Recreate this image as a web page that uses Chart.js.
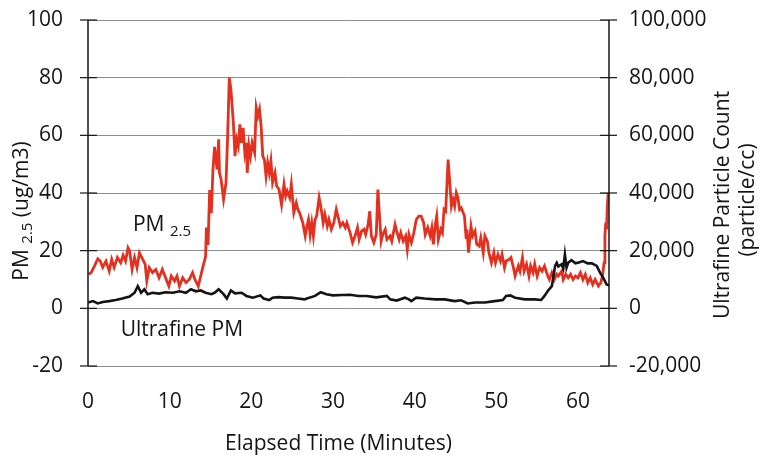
<!DOCTYPE html>
<html>
<head>
<meta charset="utf-8">
<script src="https://cdn.jsdelivr.net/npm/chart.js@4/dist/chart.umd.min.js"></script>
<style>
  html, body { margin: 0; padding: 0; background: #fff; }
  #wrap { width: 759px; height: 456px; }
</style>
</head>
<body>
<div id="wrap"><canvas id="chart" width="759" height="456"></canvas></div>
<script>
'use strict';

// PM2.5 trace (ug/m3) against elapsed minutes
const pm25Minutes = [
  0.1, 0.4, 0.8, 1.2, 1.5, 1.8, 2.2, 2.6, 2.9, 3.2, 3.6, 4.0, 4.3, 4.6, 4.9, 5.1, 5.4, 5.7, 6.0, 6.3,
  6.7, 7.0, 7.2, 7.5, 7.9, 8.3, 8.7, 9.1, 9.5, 9.9, 10.2, 10.6, 10.9, 11.2, 11.6, 12.0, 12.4, 12.8, 13.1, 13.5,
  13.8, 14.1, 14.4, 14.5, 14.7, 14.9, 15.1, 15.3, 15.5, 15.8, 16.0, 16.1, 16.3, 16.6, 16.9, 17.1, 17.3, 17.5, 17.8, 18.0,
  18.2, 18.4, 18.6, 18.8, 19.0, 19.2, 19.4, 19.5, 19.7, 19.9, 20.1, 20.4, 20.6, 20.8, 21.0, 21.2, 21.4, 21.6, 21.8, 22.0,
  22.2, 22.4, 22.6, 22.9, 23.1, 23.4, 23.7, 24.0, 24.2, 24.4, 24.7, 24.9, 25.2, 25.5, 25.7, 25.9, 26.3, 26.6, 26.8, 27.0,
  27.2, 27.4, 27.6, 27.8, 28.0, 28.3, 28.5, 28.8, 29.0, 29.3, 29.5, 29.8, 30.1, 30.4, 30.6, 30.9, 31.2, 31.5, 31.7, 32.1,
  32.4, 32.7, 33.0, 33.2, 33.5, 33.8, 34.0, 34.3, 34.5, 34.7, 35.0, 35.3, 35.5, 35.7, 35.9, 36.1, 36.4, 36.6, 37.0, 37.2,
  37.6, 37.8, 38.1, 38.3, 38.6, 38.9, 39.1, 39.3, 39.6, 39.9, 40.2, 40.5, 40.8, 41.1, 41.3, 41.6, 41.9, 42.1, 42.3, 42.5,
  42.7, 42.9, 43.2, 43.4, 43.6, 43.8, 44.1, 44.3, 44.5, 44.7, 44.9, 45.1, 45.3, 45.5, 45.7, 46.1, 46.3, 46.4, 46.6, 46.9,
  47.1, 47.4, 47.6, 47.9, 48.1, 48.4, 48.6, 48.9, 49.1, 49.4, 49.7, 49.9, 50.2, 50.5, 50.7, 51.0, 51.2, 51.6, 51.8, 52.1,
  52.3, 52.7, 52.9, 53.2, 53.4, 53.7, 54.0, 54.2, 54.5, 54.7, 55.0, 55.3, 55.6, 55.9, 56.3, 56.5, 56.8, 57.1, 57.4, 57.6,
  58.0, 58.2, 58.5, 58.8, 59.1, 59.4, 59.7, 60.0, 60.3, 60.6, 60.9, 61.2, 61.5, 61.8, 62.1, 62.5, 62.8, 63.0, 63.2, 63.3,
  63.4, 63.5, 63.6, 63.7
];
const pm25Values = [
  11.8, 12.5, 14.7, 17.2, 16.4, 14.2, 16.4, 12.9, 17.0, 14.2, 17.6, 15.8, 18.4, 16.4, 21.0, 19.9, 13.5, 17.6, 14.1, 19.3,
  17.0, 15.3, 9.5, 14.1, 12.4, 13.5, 10.6, 13.5, 10.6, 7.7, 11.2, 9.5, 11.2, 7.7, 10.6, 8.9, 10.0, 12.4, 10.0, 7.7,
  11.2, 14.7, 18.0, 28.0, 22.0, 41.0, 33.0, 48.0, 56.0, 48.2, 58.6, 47.0, 44.7, 37.8, 43.6, 59.7, 80.0, 75.9, 64.4, 52.8,
  58.6, 56.3, 63.8, 57.4, 62.6, 54.0, 57.4, 47.0, 56.3, 52.8, 57.4, 54.0, 69.6, 66.7, 69.0, 63.2, 52.8, 51.6, 45.9, 50.5,
  47.0, 51.1, 43.6, 47.0, 42.4, 41.2, 36.0, 43.0, 38.9, 40.7, 38.4, 43.0, 33.2, 36.6, 34.3, 33.2, 29.7, 25.1, 28.5, 30.8,
  25.6, 29.7, 25.1, 30.8, 32.0, 38.4, 35.5, 29.7, 32.6, 28.5, 30.8, 27.4, 29.7, 34.3, 32.0, 28.5, 29.7, 28.0, 29.7, 26.2,
  22.8, 25.1, 28.0, 23.9, 26.8, 27.4, 25.6, 29.1, 33.7, 25.1, 22.8, 25.6, 41.2, 32.0, 23.3, 25.6, 27.4, 23.9, 25.1, 23.3,
  29.1, 26.8, 23.9, 26.2, 23.3, 25.1, 20.4, 25.6, 22.8, 26.2, 30.8, 32.0, 32.0, 29.7, 25.6, 28.0, 25.1, 28.0, 22.2, 28.5,
  32.0, 23.9, 27.4, 26.2, 34.3, 33.7, 51.6, 43.6, 35.5, 37.8, 35.5, 40.1, 38.4, 34.3, 34.9, 32.0, 24.5, 27.4, 19.3, 28.5,
  25.1, 26.8, 22.2, 21.6, 24.5, 19.3, 25.1, 23.3, 19.3, 15.8, 19.3, 15.8, 18.7, 16.4, 18.7, 14.1, 16.4, 17.0, 17.6, 14.1,
  11.2, 14.7, 12.9, 17.6, 12.9, 15.3, 11.2, 14.7, 12.4, 15.3, 11.2, 14.1, 12.9, 14.7, 11.2, 10.0, 12.4, 10.0, 11.8, 11.2,
  12.9, 10.0, 11.8, 10.6, 11.8, 10.0, 11.2, 10.6, 12.4, 10.0, 11.8, 8.9, 10.6, 8.3, 10.0, 7.7, 8.9, 11.2, 15.8, 25.1,
  29.7, 27.4, 35.5, 40.1
];

// ultrafine particle count (particle/cc)
const ufpMinutes = [
  0.0, 0.6, 1.2, 1.8, 2.6, 3.4, 4.2, 5.1, 5.7, 6.1, 6.5, 6.9, 7.3, 7.9, 8.7, 9.5, 10.4, 11.2, 12.0, 12.6,
  13.2, 13.8, 14.4, 15.1, 15.5, 16.0, 16.6, 17.0, 17.5, 18.0, 18.8, 19.4, 20.2, 21.1, 21.5, 22.2, 22.6, 23.3, 24.1, 24.9,
  25.7, 26.5, 26.8, 27.8, 28.5, 29.2, 30.0, 31.1, 32.1, 33.1, 34.1, 35.3, 36.6, 37.0, 37.8, 38.8, 39.3, 39.6, 40.2, 41.2,
  42.5, 43.7, 44.9, 45.7, 46.5, 47.4, 48.6, 49.8, 50.8, 51.2, 51.7, 52.3, 53.5, 54.7, 55.5, 55.9, 56.3, 56.8, 57.0, 57.2,
  57.4, 57.6, 58.0, 58.2, 58.4, 58.6, 58.8, 59.2, 59.7, 60.2, 60.6, 61.2, 61.7, 62.3, 62.7, 63.1, 63.5, 63.8
];
const ufpCounts = [
  2000, 2500, 1700, 2200, 2500, 2900, 3400, 4100, 5400, 7700, 5400, 6600, 4900, 5400, 5100, 5600, 5400, 5900, 5400, 6600,
  5900, 6200, 5400, 4900, 5400, 6600, 4900, 3400, 6200, 5200, 5400, 4300, 3700, 4500, 3400, 2900, 3700, 3900, 3700, 3700,
  3400, 3100, 3400, 4300, 5600, 4900, 4500, 4600, 4700, 4300, 4300, 3800, 4300, 3100, 2700, 3700, 3100, 2500, 3700, 3400,
  3100, 3100, 2500, 2800, 1700, 2000, 2000, 2500, 2900, 4300, 4500, 3700, 3100, 3100, 2900, 4300, 6000, 7700, 11200, 14700,
  15800, 14500, 15300, 13800, 18700, 14100, 15800, 16700, 15600, 16000, 16400, 15600, 15600, 14700, 12400, 10600, 8300, 8000
];

const pmTicks = [-20, 0, 20, 40, 60, 80, 100];
const ufpTicks = [-20000, 0, 20000, 40000, 60000, 80000, 100000];
const timeTicks = [0, 10, 20, 30, 40, 50, 60];

const FONT = '"Open Sans", "DejaVu Sans", sans-serif';
const FS = 21;
const INK = '#141414';
const RED = '#e3301f';

const pairs = (xs, ys) => xs.map((x, i) => ({ x, y: ys[i] }));
const fixTicks = list => scale => { scale.ticks = list.map(value => ({ value })); };
// fixed box size, and no extra room reserved for the end labels
const fixSize = (w, h) => scale => {
  if (w) scale.width = w;
  if (h) scale.height = h;
  scale.paddingTop = scale.paddingBottom = 0;
  scale.paddingLeft = scale.paddingRight = 0;
};

// axis lines, crossing tick marks and all free text
const decorations = {
  id: 'decorations',
  afterDraw(chart) {
    const { ctx, chartArea: a, scales } = chart;
    const line = (x1, y1, x2, y2) => {
      ctx.beginPath();
      ctx.moveTo(x1, y1);
      ctx.lineTo(x2, y2);
      ctx.stroke();
    };

    ctx.save();
    ctx.strokeStyle = INK;
    ctx.lineWidth = 1.5;
    line(a.left, a.top, a.left, a.bottom);
    line(a.right, a.top, a.right, a.bottom);

    ctx.lineWidth = 1.2;
    for (const v of pmTicks) {
      const y = scales.y.getPixelForValue(v);
      line(a.left - 8, y, a.left + 9, y);
    }
    for (const v of ufpTicks) {
      const y = scales.y2.getPixelForValue(v);
      line(a.right - 9, y, a.right + 8, y);
    }

    ctx.fillStyle = INK;
    ctx.textBaseline = 'alphabetic';

    // x title
    ctx.font = `${FS}px ${FONT}`;
    ctx.textAlign = 'center';
    ctx.fillText('Elapsed Time (Minutes)', (a.left + a.right) / 2 - 10, 450);

    // left title with subscript
    const parts = [
      { t: 'PM ', size: FS, dy: 0 },
      { t: '2.5', size: 15, dy: 4 },
      { t: ' (ug/m3)', size: FS, dy: 0 }
    ];
    let total = 0;
    for (const p of parts) {
      ctx.font = `${p.size}px ${FONT}`;
      p.w = ctx.measureText(p.t).width;
      total += p.w;
    }
    ctx.save();
    ctx.translate(28, 211);
    ctx.rotate(-Math.PI / 2);
    ctx.textAlign = 'left';
    let cx = -total / 2;
    for (const p of parts) {
      ctx.font = `${p.size}px ${FONT}`;
      ctx.fillText(p.t, cx, p.dy);
      cx += p.w;
    }
    ctx.restore();

    // right title, two lines
    ctx.save();
    ctx.font = `${FS}px ${FONT}`;
    ctx.textAlign = 'center';
    ctx.translate(729, 205);
    ctx.rotate(-Math.PI / 2);
    ctx.fillText('Ultrafine Particle Count', 0, 0);
    ctx.fillText('(particle/cc)', 5, 25);
    ctx.restore();

    // series labels
    ctx.textAlign = 'left';
    const px = scales.x.getPixelForValue(5.5);
    const py = scales.y.getPixelForValue(26.7);
    ctx.font = `${FS}px ${FONT}`;
    ctx.fillText('PM', px, py);
    const pmW = ctx.measureText('PM ').width;
    ctx.font = `15px ${FONT}`;
    ctx.fillText('2.5', px + pmW, py + 5);

    ctx.font = `${FS}px ${FONT}`;
    ctx.fillText('Ultrafine PM', scales.x.getPixelForValue(4.0), scales.y.getPixelForValue(-9.7));
    ctx.restore();
  }
};

new Chart(document.getElementById('chart'), {
  type: 'line',
  data: {
    datasets: [
      {
        label: 'Ultrafine PM',
        data: pairs(ufpMinutes, ufpCounts),
        yAxisID: 'y2',
        borderColor: INK,
        borderWidth: 2.6,
        pointRadius: 0,
        tension: 0
      },
      {
        label: 'PM 2.5',
        data: pairs(pm25Minutes, pm25Values),
        yAxisID: 'y',
        borderColor: RED,
        borderWidth: 2.8,
        pointRadius: 0,
        tension: 0
      }
    ]
  },
  options: {
    responsive: false,
    animation: false,
    layout: { padding: { top: 20, right: 0, bottom: 0, left: 0 } },
    plugins: {
      legend: { display: false },
      tooltip: { enabled: false }
    },
    scales: {
      x: {
        type: 'linear',
        min: 0,
        max: 63.8,
        afterBuildTicks: fixTicks(timeTicks),
        afterFit: fixSize(0, 90),
        grid: { display: false, drawTicks: false },
        border: { display: false },
        ticks: { color: INK, font: { family: FONT, size: FS }, padding: 23, maxRotation: 0 }
      },
      y: {
        position: 'left',
        min: -20,
        max: 100,
        afterBuildTicks: fixTicks(pmTicks),
        afterFit: fixSize(88, 0),
        grid: { color: '#8d8d8d', lineWidth: 1, drawTicks: false },
        border: { display: false },
        ticks: { color: INK, font: { family: FONT, size: FS }, padding: 25 }
      },
      y2: {
        position: 'right',
        min: -20000,
        max: 100000,
        afterBuildTicks: fixTicks(ufpTicks),
        afterFit: fixSize(150, 0),
        grid: { drawOnChartArea: false, drawTicks: false },
        border: { display: false },
        ticks: {
          color: INK,
          font: { family: FONT, size: FS },
          padding: 20,
          callback: v => v.toLocaleString('en-US')
        }
      }
    }
  },
  plugins: [decorations]
});
</script>
</body>
</html>
